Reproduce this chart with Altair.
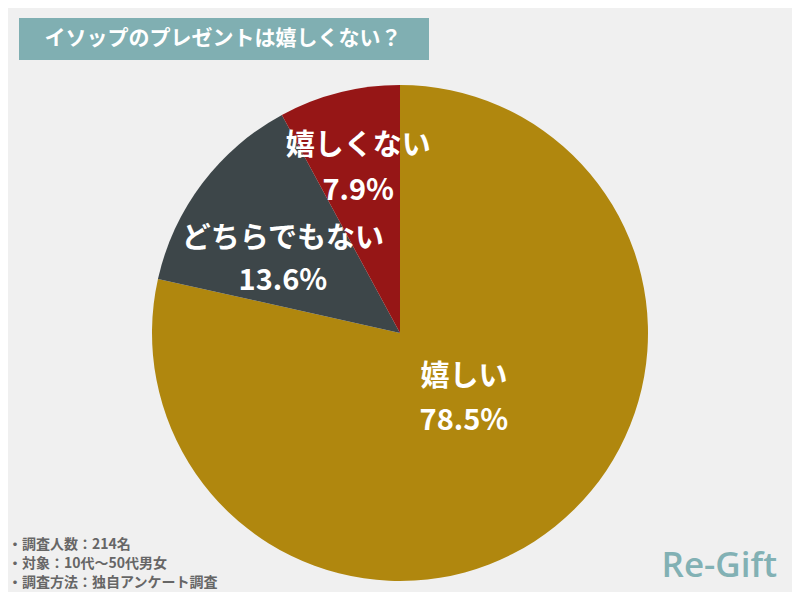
import altair as alt
import pandas as pd

# ---- data ----
categories = ["嬉しい", "どちらでもない", "嬉しくない"]
values = [78.5, 13.6, 7.9]
pct_labels = ["78.5%", "13.6%", "7.9%"]
colors = ["#b0870e", "#3d4649", "#961616"]
title_text = "イソップのプレゼントは嬉しくない？"
notes = ["・調査人数：214名", "・対象：10代～50代男女", "・調査方法：独自アンケート調査"]
brand = "Re-Gift"

df = pd.DataFrame({"cat": categories, "value": values, "pct": pct_labels,
                   "order": list(range(len(categories)))})

W, H = 784, 584
CX, CY = 392, 325
R = 248
FONT = "Noto Sans CJK JP"
theta_scale = alt.Scale(domain=[0, 100])

pie = alt.Chart(df).mark_arc(outerRadius=R).encode(
    theta=alt.Theta("value:Q", stack=True, scale=theta_scale),
    order=alt.Order("order:Q"),
    color=alt.Color("cat:N", scale=alt.Scale(domain=categories, range=colors), legend=None),
    x=alt.value(CX), y=alt.value(CY),
)

base = alt.Chart(df).transform_window(
    cum="sum(value)", sort=[alt.SortField("order")], frame=[None, 0]
).transform_calculate(mid="datum.cum - datum.value / 2")

# radius, dx, dy(name), dy(percent)
label_pos = {
    "嬉しい": (91, 7, -27, 17),
    "どちらでもない": (138, -7, -11, 31),
    "嬉しくない": (170, 0, -22, 23),
}

layers = [pie]
for cat, (r, dx, dyn, dyp) in label_pos.items():
    b = base.transform_filter(alt.datum.cat == cat)
    enc = dict(theta=alt.Theta("mid:Q", scale=theta_scale, stack=False),
               x=alt.value(CX), y=alt.value(CY))
    common = dict(radius=r, dx=dx, fontSize=29, fontWeight="bold", font=FONT,
                  color="white", align="center", baseline="middle")
    layers.append(b.mark_text(dy=dyn, **common).encode(text="cat:N", **enc))
    layers.append(b.mark_text(dy=dyp, **common).encode(text="pct:N", **enc))

one = pd.DataFrame({"t": [title_text], "n": ["\n".join(notes)], "b": [brand]})

title_bg = alt.Chart(one).mark_rect(color="#80afb2").encode(
    x=alt.value(11), x2=alt.value(421), y=alt.value(10), y2=alt.value(52))
title = alt.Chart(one).mark_text(font=FONT, fontSize=21, fontWeight="bold", color="white",
                                 align="center", baseline="middle").encode(
    text="t:N", x=alt.value(215), y=alt.value(31))
note_txt = alt.Chart(one).mark_text(font=FONT, fontSize=14, fontWeight="bold", color="#666666",
                                    align="left", baseline="middle", lineBreak="\n",
                                    lineHeight=19).encode(
    text="n:N", x=alt.value(0), y=alt.value(537))
brand_txt = alt.Chart(one).mark_text(font="Open Sans", fontSize=35, fontWeight=600,
                                     color="#82b1b4", align="right",
                                     baseline="alphabetic").encode(
    text="b:N", x=alt.value(769), y=alt.value(569))

layers += [title_bg, title, note_txt, brand_txt]

chart = alt.layer(*layers).properties(
    width=W, height=H, background="#f0f0f0", padding=0,
    autosize=alt.AutoSizeParams(type="none"),
).configure_view(stroke=None)

chart.save("out.html", embed_options={"renderer": "svg", "actions": False})
